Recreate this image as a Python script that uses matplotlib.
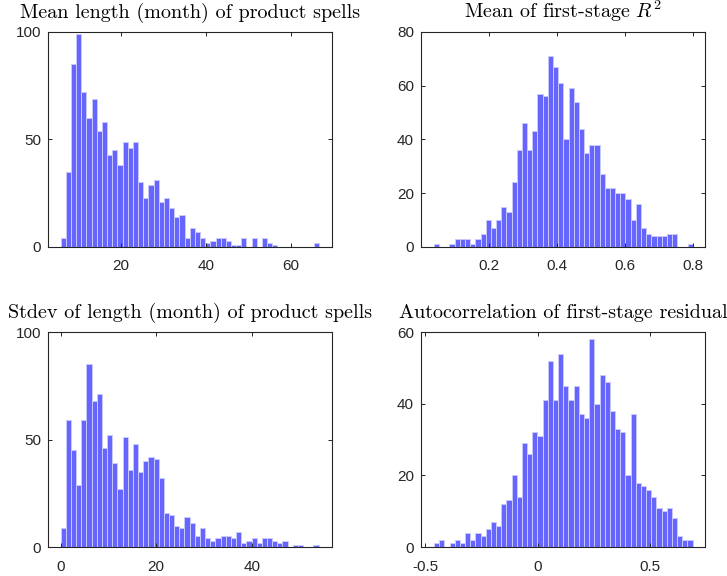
import numpy as np
import matplotlib
matplotlib.use("Agg")
import matplotlib.pyplot as plt

plt.rcParams["mathtext.fontset"] = "cm"
plt.rcParams["axes.unicode_minus"] = True

# histogram counts, 50 bins per panel
spell_mean_counts = [4, 35, 85, 99, 72, 60, 69, 54, 58, 43,
                     45, 38, 49, 46, 49, 30, 23, 29, 31, 21,
                     23, 18, 14, 15, 4, 9, 7, 4, 2, 3,
                     4, 4, 3, 1, 1, 4, 0, 4, 0, 4,
                     2, 1, 0, 0, 0, 0, 0, 0, 0, 2]
spell_mean_range = (5.96, 66.5)

r2_counts = [1, 0, 0, 1, 3, 3, 3, 1, 3, 5,
             10, 7, 10, 15, 13, 24, 36, 46, 36, 43,
             57, 56, 71, 67, 61, 40, 59, 54, 44, 35,
             38, 38, 27, 22, 22, 20, 20, 18, 10, 16,
             7, 5, 4, 4, 4, 5, 5, 0, 0, 1]
r2_range = (0.038, 0.800)

spell_sd_counts = [9, 59, 45, 29, 59, 85, 68, 71, 46, 52,
                   39, 27, 51, 36, 48, 35, 40, 42, 41, 32,
                   16, 15, 10, 9, 14, 11, 5, 9, 4, 3,
                   4, 5, 5, 4, 7, 2, 3, 4, 2, 4,
                   4, 3, 2, 3, 0, 1, 1, 0, 0, 1]
spell_sd_range = (0.0, 54.0)

resid_ac_counts = [1, 2, 0, 1, 2, 1, 4, 2, 4, 3,
                   5, 7, 6, 12, 13, 20, 14, 29, 26, 32,
                   31, 41, 52, 41, 54, 45, 41, 45, 37, 36,
                   58, 40, 48, 46, 38, 33, 32, 20, 37, 18,
                   17, 16, 14, 11, 10, 11, 8, 3, 2, 2]
resid_ac_range = (-0.461, 0.690)

panels = [
    ("Mean length (month) of product spells", spell_mean_counts, spell_mean_range,
     (2.98, 69.6), (0, 100), [20, 40, 60], [0, 50, 100]),
    ("Mean of first-stage $R^2$", r2_counts, r2_range,
     (0.0, 0.836), (0, 80), [0.2, 0.4, 0.6, 0.8], [0, 20, 40, 60, 80]),
    ("Stdev of length (month) of product spells", spell_sd_counts, spell_sd_range,
     (-2.66, 56.8), (0, 100), [0, 20, 40], [0, 50, 100]),
    ("Autocorrelation of first-stage residual", resid_ac_counts, resid_ac_range,
     (-0.519, 0.745), (0, 60), [-0.5, 0, 0.5], [0, 20, 40, 60]),
]

fig = plt.figure(figsize=(7.27, 5.76), dpi=100)
rects = [
    [0.066, 0.5712, 0.3906, 0.3733],
    [0.5791, 0.5712, 0.3906, 0.3733],
    [0.066, 0.0503, 0.3906, 0.3733],
    [0.5791, 0.0503, 0.3906, 0.3733],
]

for rect, (title, counts, brange, xlim, ylim, xt, yt) in zip(rects, panels):
    ax = fig.add_axes(rect)
    edges = np.linspace(brange[0], brange[1], len(counts) + 1)
    centers = 0.5 * (edges[:-1] + edges[1:])
    ax.hist(centers, bins=edges, weights=counts,
            facecolor="#6666ff", edgecolor="#c9c9ff", linewidth=0.7)
    ax.set_xlim(*xlim)
    ax.set_ylim(*ylim)
    ax.set_xticks(xt)
    ax.set_yticks(yt)
    ax.set_xticklabels([f"{v:g}" for v in xt])
    ax.set_title(title, family="cmr10", fontsize=14.5, pad=10)
    ax.tick_params(direction="in", length=3, width=0.7, top=True, right=True,
                   labelsize=11, colors="#262626")
    ax.tick_params(axis="x", pad=9)
    ax.tick_params(axis="y", pad=5)
    for lab in ax.get_xticklabels() + ax.get_yticklabels():
        lab.set_family("Liberation Sans")
    for s in ax.spines.values():
        s.set_color("#262626")
        s.set_linewidth(0.8)

fig.savefig("out.png", dpi=100)
